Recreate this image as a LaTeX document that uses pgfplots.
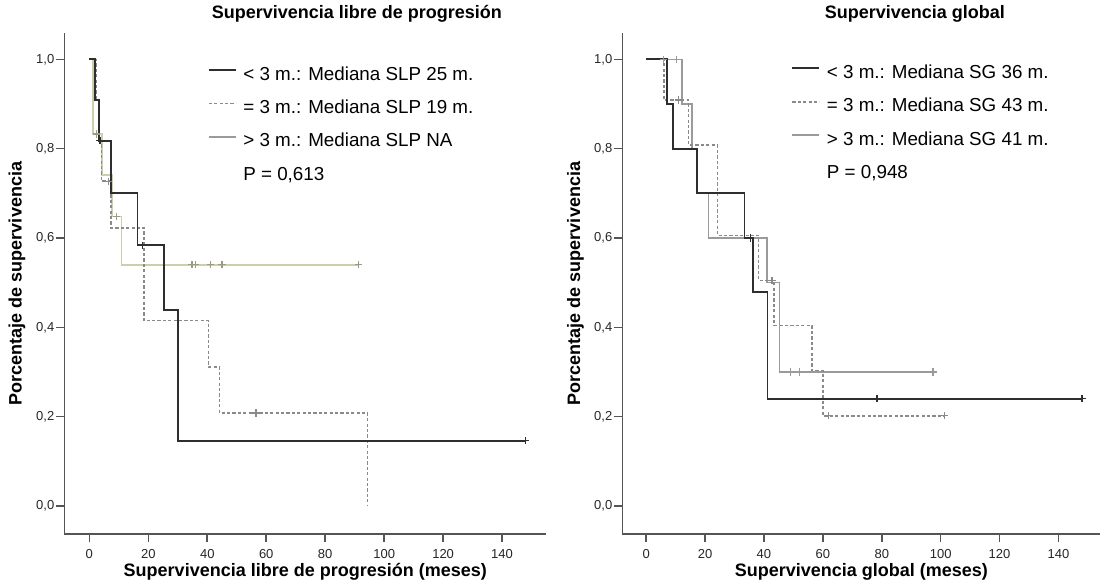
\documentclass[border=0pt]{standalone}
\usepackage{fontspec}
\setmainfont{Liberation Sans}
\usepackage{pgfplots}
\pgfplotsset{compat=1.18}
\definecolor{cblack}{HTML}{2E2E2E}
\definecolor{cdash}{HTML}{8A8A8A}
\definecolor{cgray}{HTML}{9A9A9A}
\definecolor{colive}{HTML}{CDCFAC}
\definecolor{caxis}{HTML}{555555}
\pgfplotsset{
 km/.style={
  scale only axis, height=250.5pt,
  axis x line*=bottom, axis y line*=left,
  axis line style={draw=caxis, line width=0.8pt, -},
  ymin=-0.0627, ymax=1.059,
  xtick={0,20,...,140}, ytick={0,0.2,0.4,0.6,0.8,1.0},
  tick align=outside, major tick length=4pt,
  tick style={draw=caxis, line width=0.8pt},
  every tick label/.append style={font=\fontsize{6.5}{7}\selectfont, text=black!85},
  xticklabel style={/pgf/number format/.cd, assume math mode=true},
  yticklabel style={xshift=2.5pt, /pgf/number format/.cd, fixed, fixed zerofill, precision=1, use comma, assume math mode=true},
  xlabel style={font=\bfseries\fontsize{9}{10}\selectfont, at={(axis description cs:0.5,-0.0858)}, anchor=base},
  ylabel style={font=\bfseries\fontsize{9}{10}\selectfont, at={(axis description cs:-0.098,0.5)}, anchor=center},
  title style={font=\bfseries\fontsize{9}{10}\selectfont, anchor=base},
  legend style={draw=none, fill=none, anchor=north west, inner sep=0pt, outer sep=0pt,
    font=\fontsize{9.4}{11}\selectfont, row sep=7.7pt, column sep=3.3pt,
    nodes={inner sep=0pt, text height=7pt, text depth=2pt}},
  legend cell align=left,
  legend image code/.code={\draw[##1] (0pt,2.5pt) -- (13.5pt,2.5pt);},
 },
 cens/.style={only marks, mark=+, mark size=1.8pt, forget plot, mark options={line width=0.6pt}},
}
\begin{document}
\begin{tikzpicture}
\path[use as bounding box] (0,0) rectangle (551.5pt,291.5pt);
% ---------------- Left: SLP
\begin{axis}[km, at={(32.15pt,24.5pt)}, anchor=south west, width=241pt,
  xmin=-8.5, xmax=155,
  title={Supervivencia libre de progresión},
  title style={at={(axis description cs:0.607,1.004)}},
  xlabel={Supervivencia libre de progresión (meses)},
  ylabel={Porcentaje de supervivencia},
  legend style={at={(axis description cs:0.298,0.934)}}]
\addplot[const plot, draw=colive, line width=0.8pt, forget plot] coordinates {
 (0,1) (1.3,0.833) (4.2,0.741) (7.6,0.648) (10.9,0.540) (91.3,0.540)};
\addplot[cens, color=colive!75!black] coordinates {
 (2.4,0.833) (9.2,0.648) (34.8,0.54) (35.9,0.54) (41.2,0.54) (45.0,0.54) (91.3,0.54)};
\addplot[const plot, draw=cdash, dash pattern=on 1.6pt off 1.1pt, line width=0.8pt, forget plot] coordinates {
 (0,1) (2.3,0.909) (3.5,0.818) (4.1,0.727) (7.3,0.623) (18.6,0.415) (40.4,0.311) (44.2,0.208) (94.4,0)};
\addplot[cens, color=cdash] coordinates {(6.5,0.727) (56.5,0.208)};
\addplot[const plot, draw=cblack, line width=0.9pt, forget plot] coordinates {
 (0,1) (2.0,0.909) (3.2,0.818) (7.3,0.701) (16.3,0.584) (25.2,0.438) (30.2,0.146) (148,0.146)};
\addplot[cens, color=cblack] coordinates {(3.5,0.818) (3.9,0.818) (17.9,0.584) (148,0.146)};
\addlegendimage{draw=cblack, line width=0.9pt}
\addlegendentry{< 3 m.: Mediana SLP 25 m.}
\addlegendimage{draw=cdash, dash pattern=on 1.6pt off 1.1pt, line width=0.8pt}
\addlegendentry{= 3 m.: Mediana SLP 19 m.}
\addlegendimage{draw=cgray, line width=0.8pt}
\addlegendentry{> 3 m.: Mediana SLP NA}
\addlegendimage{empty legend}
\addlegendentry{P = 0,613}
\end{axis}
% ---------------- Right: SG
\begin{axis}[km, at={(311.15pt,24.5pt)}, anchor=south west, width=239pt,
  xmin=-8.1, xmax=154.2,
  title={Supervivencia global},
  title style={at={(axis description cs:0.612,1.004)}},
  xlabel={Supervivencia global (meses)},
  ylabel={Porcentaje de supervivencia},
  legend style={at={(axis description cs:0.354,0.9375)}}]
\addplot[const plot, draw=cgray, line width=0.8pt, forget plot] coordinates {
 (0,1) (12.2,0.9) (15.5,0.8) (17.4,0.7) (21.2,0.6) (41.0,0.5) (45.3,0.3) (97.4,0.3)};
\addplot[cens, color=cgray] coordinates {(5.9,1) (10.4,1) (48.9,0.3) (52.1,0.3) (97.4,0.3)};
\addplot[const plot, draw=cdash, dash pattern=on 1.6pt off 1.1pt, line width=0.8pt, forget plot] coordinates {
 (0,1) (6.0,0.909) (14.4,0.808) (24.2,0.606) (38.2,0.505) (43.5,0.404) (56.3,0.303) (60.1,0.202) (101.2,0.202)};
\addplot[cens, color=cdash] coordinates {(11.0,0.909) (42.7,0.505) (61.9,0.202) (101.2,0.202)};
\addplot[const plot, draw=cblack, line width=0.9pt, forget plot] coordinates {
 (0,1) (7.1,0.9) (9.1,0.8) (17.2,0.7) (33.4,0.6) (36.3,0.48) (41.2,0.24) (148,0.24)};
\addplot[cens, color=cblack] coordinates {(35.3,0.6) (78.4,0.24) (148,0.24)};
\addlegendimage{draw=cblack, line width=0.9pt}
\addlegendentry{< 3 m.: Mediana SG 36 m.}
\addlegendimage{draw=cdash, dash pattern=on 1.6pt off 1.1pt, line width=0.8pt}
\addlegendentry{= 3 m.: Mediana SG 43 m.}
\addlegendimage{draw=cgray, line width=0.8pt}
\addlegendentry{> 3 m.: Mediana SG 41 m.}
\addlegendimage{empty legend}
\addlegendentry{P = 0,948}
\end{axis}
\end{tikzpicture}
\end{document}
